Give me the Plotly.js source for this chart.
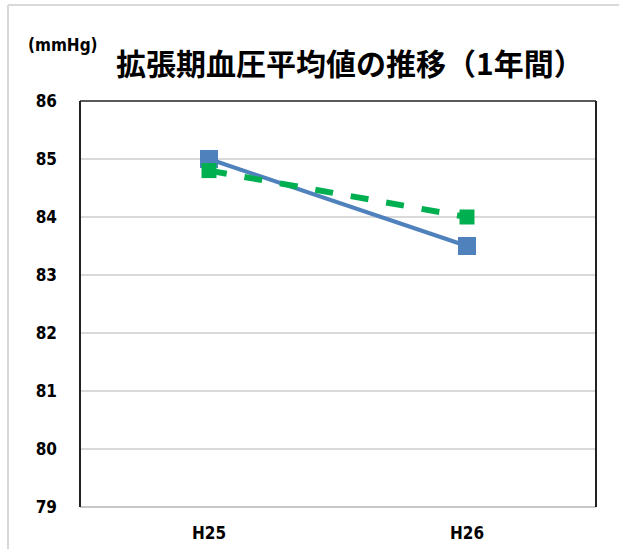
<!DOCTYPE html>
<html>
<head>
<meta charset="utf-8">
<script src="https://cdn.plot.ly/plotly-3.0.1.min.js"></script>
<style>html,body{margin:0;padding:0;background:#fff;}#chart{width:619px;height:549px;}</style>
</head>
<body>
<div id="chart"></div>
<script>
const categories = ["H25", "H26"];
const seriesA = [85.0, 83.5];
const seriesB = [84.8, 84.0];
const yTicks = [79, 80, 81, 82, 83, 84, 85, 86];
const titleText = "拡張期血圧平均値の推移（1年間）";
const unitText = "(mmHg)";

const W = 619, H = 549;
const L = 80, R = 23, T = 101, B = 42;
const pw = W - L - R, ph = H - T - B;
function px(x) { return (x - L) / pw; }
function py(y) { return (H - B - y) / ph; }

const tickFont = {family: "Liberation Sans Narrow, DejaVu Sans Condensed, Arial Narrow, sans-serif", size: 17, color: "#000", weight: "bold"};

const traces = [
  {
    x: categories, y: seriesA, type: "scatter", mode: "lines+markers",
    line: {color: "#4F81BD", width: 4},
    marker: {symbol: "square", size: 18, color: "#4F81BD"},
    showlegend: false, hoverinfo: "skip"
  },
  {
    x: categories, y: seriesB, type: "scatter", mode: "lines+markers",
    line: {color: "#00B050", width: 6, dash: "dash"},
    marker: {symbol: "square", size: 15, color: "#00B050"},
    showlegend: false, hoverinfo: "skip"
  }
];

const layout = {
  width: W, height: H,
  margin: {l: L, r: R, t: T, b: B, pad: 0},
  paper_bgcolor: "#fff", plot_bgcolor: "#fff",
  xaxis: {
    type: "category", range: [-0.5, 1.5],
    showgrid: false, zeroline: false, showline: false,
    ticks: "", tickfont: tickFont, ticklabelstandoff: 14
  },
  yaxis: {
    range: [79, 86], tickvals: yTicks, ticktext: yTicks.map(String),
    showgrid: true, gridcolor: "#D9D9D9", gridwidth: 1.5,
    zeroline: false, showline: false, ticks: "",
    tickfont: tickFont, ticklabelstandoff: 22
  },
  shapes: [
    {type: "line", xref: "paper", yref: "paper", x0: 0, x1: 1, y0: 0, y1: 0, line: {color: "#C8C8C8", width: 2}},
    {type: "line", xref: "paper", yref: "paper", x0: 0, x1: 0, y0: 0, y1: 1, line: {color: "#222", width: 2}},
    {type: "line", xref: "paper", yref: "paper", x0: 1, x1: 1, y0: 0, y1: 1, line: {color: "#222", width: 2}},
    {type: "line", xref: "paper", yref: "paper", x0: 0, x1: 1, y0: 1, y1: 1, line: {color: "#222", width: 1.5}},
    {type: "line", xref: "paper", yref: "paper", x0: px(8), x1: px(619), y0: py(5), y1: py(5), line: {color: "#D9D9D9", width: 2}},
    {type: "line", xref: "paper", yref: "paper", x0: px(8), x1: px(8), y0: py(5), y1: py(549), line: {color: "#D9D9D9", width: 2}}
  ],
  annotations: [
    {text: titleText, xref: "paper", yref: "paper", x: px(350), y: py(62), xanchor: "center", yanchor: "middle",
     showarrow: false, font: {family: "Noto Sans CJK JP, sans-serif", size: 30, color: "#000", weight: "bold"}},
    {text: unitText, xref: "paper", yref: "paper", x: px(63), y: py(45), xanchor: "center", yanchor: "middle",
     showarrow: false, font: {family: "Liberation Sans Narrow, DejaVu Sans Condensed, sans-serif", size: 17, color: "#000", weight: "bold"}}
  ]
};

Plotly.newPlot("chart", traces, layout, {staticPlot: true, displayModeBar: false});
</script>
</body>
</html>
